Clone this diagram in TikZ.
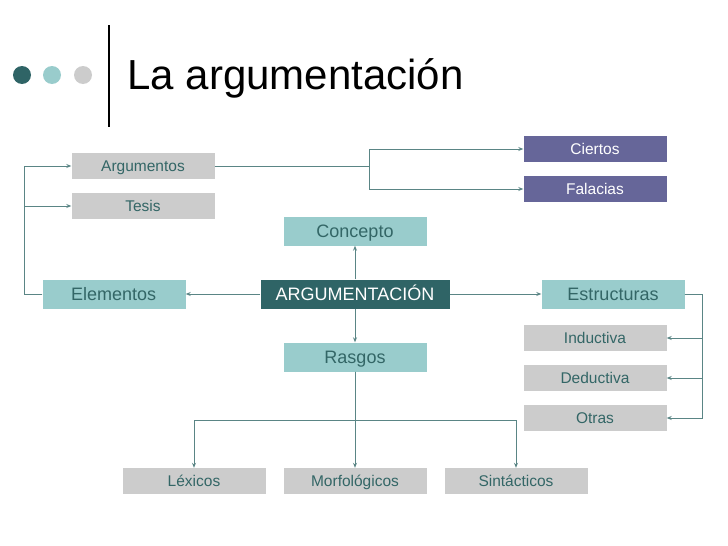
\documentclass[tikz,border=0pt]{standalone}
\usepackage{fontspec}
\setmainfont{Liberation Sans}
\usetikzlibrary{arrows.meta}
\definecolor{darkteal}{HTML}{2F6466}
\definecolor{lightteal}{HTML}{99CCCC}
\definecolor{boxgrey}{HTML}{CCCCCC}
\definecolor{boxpurple}{HTML}{666699}
\definecolor{txtteal}{HTML}{336666}
\definecolor{linecol}{HTML}{5A8585}
\begin{document}
\begin{tikzpicture}[x=1pt,y=-1pt,
        box/.style={minimum width=143pt,inner sep=0pt,text height=11.2pt,text depth=0pt,
            font=\fontsize{15.5}{18}\selectfont,text=txtteal},
        greybox/.style={box,fill=boxgrey,minimum height=26pt},
        tealbox/.style={box,fill=lightteal,minimum height=29pt,text height=13pt,font=\fontsize{18}{20}\selectfont},
        purplebox/.style={box,fill=boxpurple,minimum height=26pt,text=white},
        link/.style={draw=linecol,line width=0.8pt,-{Stealth[length=5pt,width=4pt]}}]
    \useasboundingbox (0,0) rectangle (728,546);
	% title
    \fill[darkteal] (22,75) circle (9);
    \fill[lightteal] (52,75) circle (9);
    \fill[boxgrey] (83,75) circle (9);
    \draw[line width=2pt] (109,25) -- (109,127);
    \node[anchor=west,font=\fontsize{42}{46}\selectfont] (title) at (124,78) {La argumentación};
	% nodes
    \node[tealbox,fill=darkteal,text=white,minimum width=189pt] (arg) at (355,294) {ARGUMENTACIÓN};
    \node[tealbox] (concepto) at (355,231) {Concepto};
    \node[tealbox] (rasgos) at (355,357) {Rasgos};
    \node[tealbox,text width=86pt,align=left] (elem) at (114,294) {Elementos};
    \node[tealbox] (estr) at (613,294) {Estructuras};
    \node[greybox] (argum) at (143,166) {Argumentos};
    \node[greybox] (tesis) at (143,206) {Tesis};
    \node[purplebox] (ciertos) at (595,149) {Ciertos};
    \node[purplebox] (falacias) at (595,189) {Falacias};
    \node[greybox] (induc) at (595,338) {Inductiva};
    \node[greybox] (deduc) at (595,378) {Deductiva};
    \node[greybox] (otras) at (595,418) {Otras};
    \node[greybox] (lex) at (194,481) {Léxicos};
    \node[greybox] (morf) at (355,481) {Morfológicos};
    \node[greybox] (sint) at (516,481) {Sintácticos};
	% connectors
    \draw[link] (arg) -- (concepto);
    \draw[link] (arg) -- (rasgos);
    \draw[link] (arg) -- (elem);
    \draw[link] (arg) -- (estr);
    \draw[link] (elem.west) -- ++(-18,0) |- (argum.west);
    \draw[link] (elem.west) -- ++(-18,0) |- (tesis.west);
    \draw[link] (argum.east) -- ++(155,0) |- (ciertos.west);
    \draw[link] (argum.east) -- ++(155,0) |- (falacias.west);
    \draw[link] (estr.east) -- ++(18,0) |- (induc.east);
    \draw[link] (estr.east) -- ++(18,0) |- (deduc.east);
    \draw[link] (estr.east) -- ++(18,0) |- (otras.east);
    \draw[link] (rasgos.south) -- ++(0,49) -| (lex.north);
    \draw[link] (rasgos.south) -- (morf.north);
    \draw[link] (rasgos.south) -- ++(0,49) -| (sint.north);
\end{tikzpicture}
\end{document}
